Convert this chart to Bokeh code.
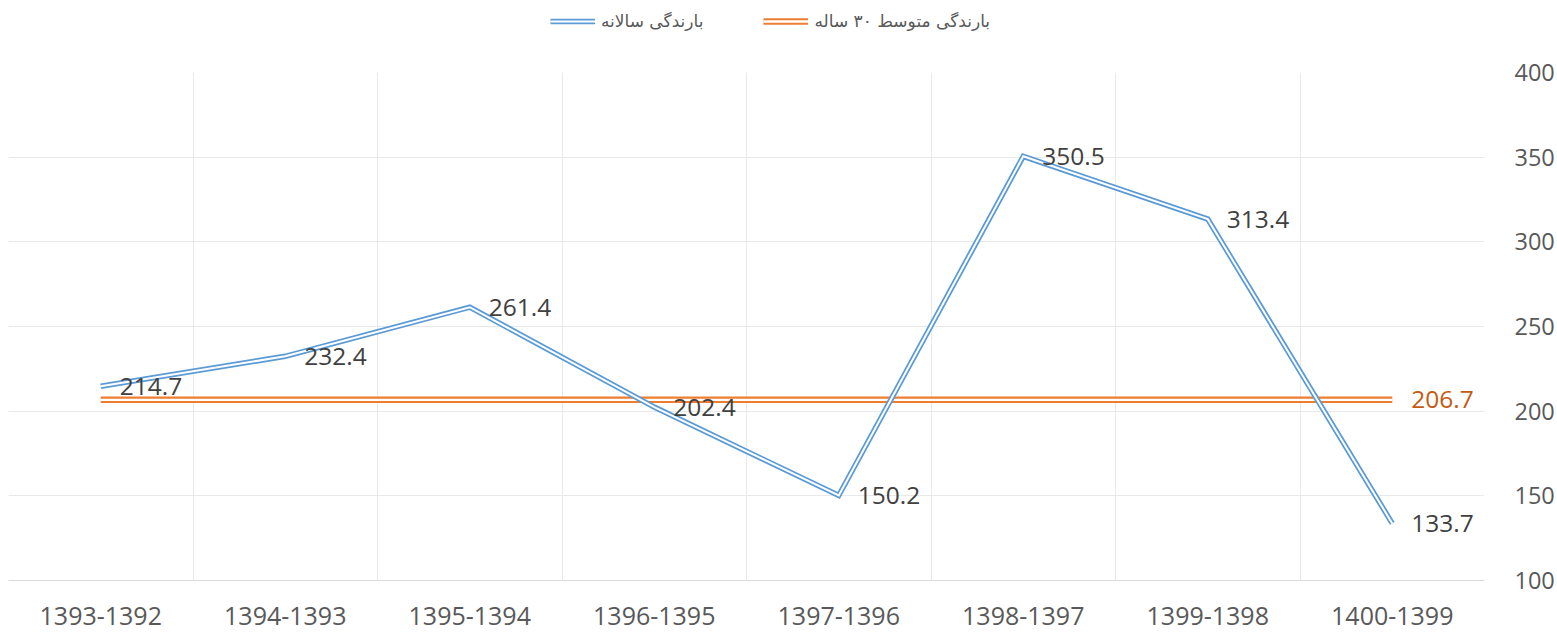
from bokeh.plotting import figure
from bokeh.layouts import column
from bokeh.models import (Range1d, FixedTicker, Legend, LegendItem, ColumnDataSource,
                          LabelSet)
from bokeh.core.properties import value
from bokeh.embed import file_html
from bokeh.resources import INLINE

categories = ["1393-1392", "1394-1393", "1395-1394", "1396-1395",
              "1397-1396", "1398-1397", "1399-1398", "1400-1399"]
annual = [214.7, 232.4, 261.4, 202.4, 150.2, 350.5, 313.4, 133.7]
mean30 = [206.7] * 8
y_ticks = [100, 150, 200, 250, 300, 350, 400]
legend_annual = "بارندگی سالانه"
legend_mean = "بارندگی متوسط ۳۰ ساله"

BLUE = "#5b9bd5"
ORANGE = "#ed7d31"
ORANGE_TXT = "#c55a11"
FONT = "Open Sans"

xs = list(range(1, len(categories) + 1))

TOP_H = 48

p = figure(width=1557, height=633 - TOP_H, output_backend="svg", toolbar_location=None,
           x_range=Range1d(0.5, len(categories) + 0.5), y_range=Range1d(100, 400),
           y_axis_location="right", min_border_left=8, min_border_top=72 - TOP_H,
           min_border_right=71, min_border_bottom=53)
p.outline_line_color = None
p.background_fill_color = "white"
p.border_fill_color = "white"

# grid
p.xgrid.ticker = FixedTicker(ticks=[i + 0.5 for i in range(0, len(categories) + 1)])
p.xgrid.grid_line_color = "#e9e9e9"
p.ygrid.ticker = FixedTicker(ticks=y_ticks)
p.ygrid.grid_line_color = "#e9e9e9"

# axes
p.xaxis.ticker = FixedTicker(ticks=xs)
p.xaxis.major_label_overrides = {x: c for x, c in zip(xs, categories)}
p.xaxis.axis_line_color = "#d9d9d9"
p.xaxis.major_tick_line_color = None
p.xaxis.minor_tick_line_color = None
p.xaxis.major_label_text_font = FONT
p.xaxis.major_label_text_font_size = "25px"
p.xaxis.major_label_text_color = "#595959"
p.xaxis.major_label_standoff = 20

p.yaxis.ticker = FixedTicker(ticks=y_ticks)
p.yaxis.axis_line_color = None
p.yaxis.major_tick_line_color = None
p.yaxis.minor_tick_line_color = None
p.yaxis.major_label_text_font = FONT
p.yaxis.major_label_text_font_size = "23.5px"
p.yaxis.major_label_text_color = "#595959"
p.yaxis.major_label_standoff = 24

# mean line (double)
p.line(xs, mean30, line_color=ORANGE, line_width=6.5)
p.line(xs, mean30, line_color="white", line_width=2.3)
# annual line (double)
p.line(xs, annual, line_color=BLUE, line_width=5.5, line_join="miter")
p.line(xs, annual, line_color="white", line_width=2, line_join="miter")

# data labels
src = ColumnDataSource(dict(x=xs, y=annual, t=[f"{v:.1f}" for v in annual]))
p.add_layout(LabelSet(x="x", y="y", text="t", source=src, x_offset=19, y_offset=0,
                      text_baseline="middle", text_align="left",
                      text_font=value(FONT), text_font_size="24.5px",
                      text_color="#404040"))
src2 = ColumnDataSource(dict(x=[xs[-1]], y=[mean30[-1]], t=[f"{mean30[-1]:.1f}"]))
p.add_layout(LabelSet(x="x", y="y", text="t", source=src2, x_offset=19, y_offset=0,
                      text_baseline="middle", text_align="left",
                      text_font=value(FONT), text_font_size="24.5px",
                      text_color=ORANGE_TXT))

# legend strip above the chart
lg = figure(width=1557, height=TOP_H, output_backend="svg", toolbar_location=None,
            x_range=Range1d(0.5, len(categories) + 0.5), y_range=Range1d(100, 400),
            min_border=0, x_axis_location=None, y_axis_location=None)
lg.outline_line_color = None
lg.grid.visible = False
mo = lg.line(xs, mean30, line_color=ORANGE, line_width=6.5, visible=False)
mi = lg.line(xs, mean30, line_color="white", line_width=2.3, visible=False)
ao = lg.line(xs, annual, line_color=BLUE, line_width=5.5, visible=False)
ai = lg.line(xs, annual, line_color="white", line_width=2, visible=False)

legend = Legend(items=[LegendItem(label=legend_annual, renderers=[ao, ai]),
                       LegendItem(label=legend_mean, renderers=[mo, mi])],
                orientation="horizontal", location=(542, 17), padding=0,
                spacing=60, glyph_width=45, glyph_height=20, label_standoff=6,
                border_line_color=None, background_fill_alpha=0,
                label_text_font="DejaVu Sans", label_text_font_size="17px",
                label_text_color="#595959", margin=0)
lg.add_layout(legend, "center")

layout = column(lg, p, spacing=0)
open("out.html", "w").write(file_html(layout, INLINE))
